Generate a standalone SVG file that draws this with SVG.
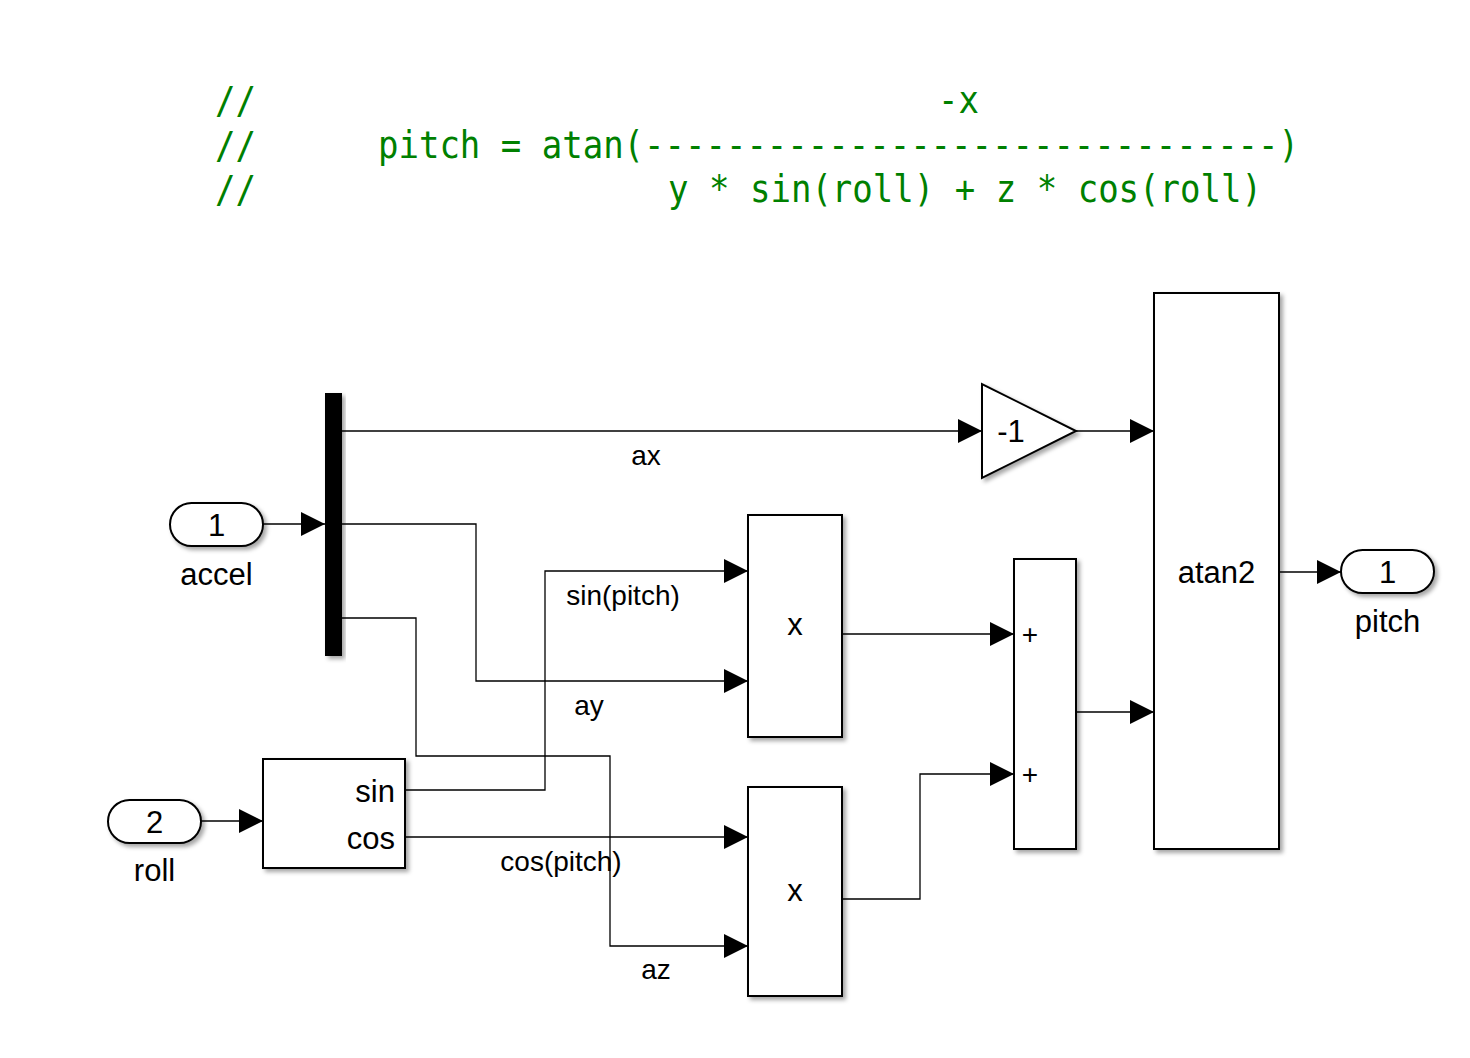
<svg xmlns="http://www.w3.org/2000/svg" width="1470" height="1058" viewBox="0 0 1470 1058">
<style>
.code{font-family:"DejaVu Sans Mono","Liberation Mono",monospace;font-size:37px;fill:#008000;white-space:pre}
.blk{fill:#fff;stroke:#000;stroke-width:2}
.ln{fill:none;stroke:#000;stroke-width:1.3}
.t{font-family:"Liberation Sans",Arial,sans-serif;fill:#000}
.big{font-size:31px}
.sm{font-size:28px}
</style>
<defs>
<marker id="ar" markerUnits="userSpaceOnUse" markerWidth="24" markerHeight="24" refX="24" refY="12" orient="auto">
<path d="M0,0 L24,12 L0,24 Z" fill="#000"/>
</marker>
<filter id="sh" x="-10%" y="-10%" width="130%" height="130%">
<feDropShadow dx="3" dy="3" stdDeviation="2" flood-color="#000" flood-opacity="0.35"/>
</filter>
</defs>
<rect width="1470" height="1058" fill="#fff"/>
<g id="comment">
<text class="code" x="215" y="113" textLength="41" lengthAdjust="spacingAndGlyphs">//</text>
<text class="code" x="938" y="113" textLength="41" lengthAdjust="spacingAndGlyphs">-x</text>
<text class="code" x="215" y="158" textLength="41" lengthAdjust="spacingAndGlyphs">//</text>
<text class="code" x="378" y="158" textLength="921" lengthAdjust="spacingAndGlyphs">pitch = atan(-------------------------------)</text>
<text class="code" x="215" y="202" textLength="41" lengthAdjust="spacingAndGlyphs">//</text>
<text class="code" x="668" y="202" textLength="594" lengthAdjust="spacingAndGlyphs">y * sin(roll) + z * cos(roll)</text>
</g>
<g id="connectors">
<path class="ln" d="M263,524 H325" marker-end="url(#ar)"/>
<path class="ln" d="M342,431 H982" marker-end="url(#ar)"/>
<path class="ln" d="M342,524 H476 V681 H748" marker-end="url(#ar)"/>
<path class="ln" d="M342,618 H416 V756 H610 V946 H748" marker-end="url(#ar)"/>
<path class="ln" d="M1076,431 H1154" marker-end="url(#ar)"/>
<path class="ln" d="M201,821 H263" marker-end="url(#ar)"/>
<path class="ln" d="M405,790 H545 V571 H748" marker-end="url(#ar)"/>
<path class="ln" d="M405,837 H748" marker-end="url(#ar)"/>
<path class="ln" d="M842,634 H1014" marker-end="url(#ar)"/>
<path class="ln" d="M842,899 H920 V774 H1014" marker-end="url(#ar)"/>
<path class="ln" d="M1076,712 H1154" marker-end="url(#ar)"/>
<path class="ln" d="M1279,572 H1341" marker-end="url(#ar)"/>
<text class="t sm" x="646" y="465" text-anchor="middle">ax</text>
<text class="t sm" x="623" y="605" text-anchor="middle">sin(pitch)</text>
<text class="t sm" x="589" y="715" text-anchor="middle">ay</text>
<text class="t sm" x="561" y="871" text-anchor="middle">cos(pitch)</text>
<text class="t sm" x="656" y="979" text-anchor="middle">az</text>
</g>
<g id="inport_accel">
<rect class="blk" x="170" y="503" width="93" height="43" rx="21.5" filter="url(#sh)"/>
<text class="t big" x="216.5" y="536" text-anchor="middle">1</text>
<text class="t big" x="216.5" y="585" text-anchor="middle">accel</text>
</g>
<g id="demux">
<rect x="325" y="393" width="17" height="263" fill="#000" filter="url(#sh)"/>
</g>
<g id="inport_roll">
<rect class="blk" x="108" y="800" width="93" height="43" rx="21.5" filter="url(#sh)"/>
<text class="t big" x="154.5" y="833" text-anchor="middle">2</text>
<text class="t big" x="154.5" y="881" text-anchor="middle">roll</text>
</g>
<g id="trig">
<rect class="blk" x="263" y="759" width="142" height="109" filter="url(#sh)"/>
<text class="t big" x="395" y="802" text-anchor="end">sin</text>
<text class="t big" x="395" y="849" text-anchor="end">cos</text>
</g>
<g id="gain">
<polygon class="blk" points="982,384 982,478 1076,431" filter="url(#sh)"/>
<text class="t big" x="1011" y="442" text-anchor="middle">-1</text>
</g>
<g id="product1">
<rect class="blk" x="748" y="515" width="94" height="222" filter="url(#sh)"/>
<text class="t big" x="795" y="635" text-anchor="middle">x</text>
</g>
<g id="product2">
<rect class="blk" x="748" y="787" width="94" height="209" filter="url(#sh)"/>
<text class="t big" x="795" y="901" text-anchor="middle">x</text>
</g>
<g id="sum">
<rect class="blk" x="1014" y="559" width="62" height="290" filter="url(#sh)"/>
<text class="t sm" x="1030" y="644" text-anchor="middle">+</text>
<text class="t sm" x="1030" y="784" text-anchor="middle">+</text>
</g>
<g id="atan2">
<rect class="blk" x="1154" y="293" width="125" height="556" filter="url(#sh)"/>
<text class="t big" x="1216.5" y="583" text-anchor="middle">atan2</text>
</g>
<g id="outport_pitch">
<rect class="blk" x="1341" y="550" width="93" height="43" rx="21.5" filter="url(#sh)"/>
<text class="t big" x="1387.5" y="583" text-anchor="middle">1</text>
<text class="t big" x="1387.5" y="632" text-anchor="middle">pitch</text>
</g>
</svg>
